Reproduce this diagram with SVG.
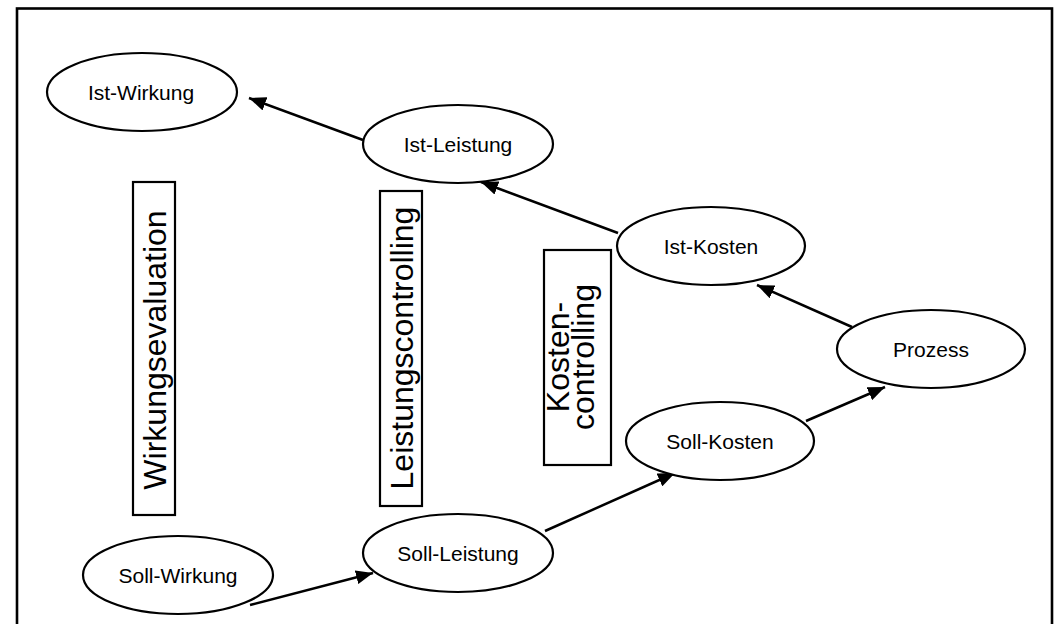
<svg xmlns="http://www.w3.org/2000/svg" width="1059" height="624" viewBox="0 0 1059 624">
<style>
.node ellipse{fill:#fff;stroke:#000;stroke-width:2.2}
.node text{font-family:"Liberation Sans",Arial,sans-serif;font-size:21px;text-anchor:middle;fill:#000}
.band rect{fill:#fff;stroke:#000;stroke-width:2.2}
.band text{font-family:"Liberation Sans",Arial,sans-serif;font-size:32px;text-anchor:middle;fill:#000}
.conn line{stroke:#000;stroke-width:2.5;marker-end:url(#ah)}
</style>
<defs>
<marker id="ah" markerUnits="userSpaceOnUse" markerWidth="18" markerHeight="14" refX="17" refY="7" orient="auto">
<path d="M0,0 L17,7 L0,14 z" fill="#000"/>
</marker>
</defs>
<rect x="0" y="0" width="1059" height="624" fill="#fff"/>
<rect id="frame" x="17" y="8.5" width="1035" height="630" fill="none" stroke="#000" stroke-width="2.6"/>
<g class="conn" id="connectors">
<line x1="363" y1="140" x2="249" y2="98"/>
<line x1="618" y1="233" x2="481" y2="182"/>
<line x1="852" y1="327" x2="757" y2="285"/>
<line x1="806" y1="421" x2="885" y2="387"/>
<line x1="545" y1="531" x2="675" y2="473"/>
<line x1="250" y1="605" x2="373" y2="573"/>
</g>
<g class="node" id="ist-wirkung"><ellipse cx="142" cy="92" rx="95" ry="39"/><text x="141" y="100">Ist-Wirkung</text></g>
<g class="node" id="ist-leistung"><ellipse cx="458" cy="144" rx="95" ry="39"/><text x="458" y="152">Ist-Leistung</text></g>
<g class="node" id="ist-kosten"><ellipse cx="711" cy="246" rx="94" ry="39"/><text x="711" y="254">Ist-Kosten</text></g>
<g class="node" id="prozess"><ellipse cx="931" cy="349" rx="94" ry="39"/><text x="931" y="357">Prozess</text></g>
<g class="node" id="soll-kosten"><ellipse cx="720" cy="441" rx="94" ry="39"/><text x="720" y="449">Soll-Kosten</text></g>
<g class="node" id="soll-leistung"><ellipse cx="458" cy="553" rx="95" ry="39"/><text x="458" y="561">Soll-Leistung</text></g>
<g class="node" id="soll-wirkung"><ellipse cx="178" cy="575" rx="95" ry="39"/><text x="178" y="583">Soll-Wirkung</text></g>
<g class="band" id="wirkungsevaluation"><rect x="133" y="182" width="42" height="333"/><text transform="translate(166,350) rotate(-90)">Wirkungsevaluation</text></g>
<g class="band" id="leistungscontrolling"><rect x="380" y="191" width="42" height="315"/><text transform="translate(413,348) rotate(-90)">Leistungscontrolling</text></g>
<g class="band" id="kostencontrolling"><rect x="544" y="250" width="67" height="215"/><text transform="translate(569,357) rotate(-90)"><tspan x="0" y="0">Kosten-</tspan><tspan x="0" y="25">controlling</tspan></text></g>
</svg>
